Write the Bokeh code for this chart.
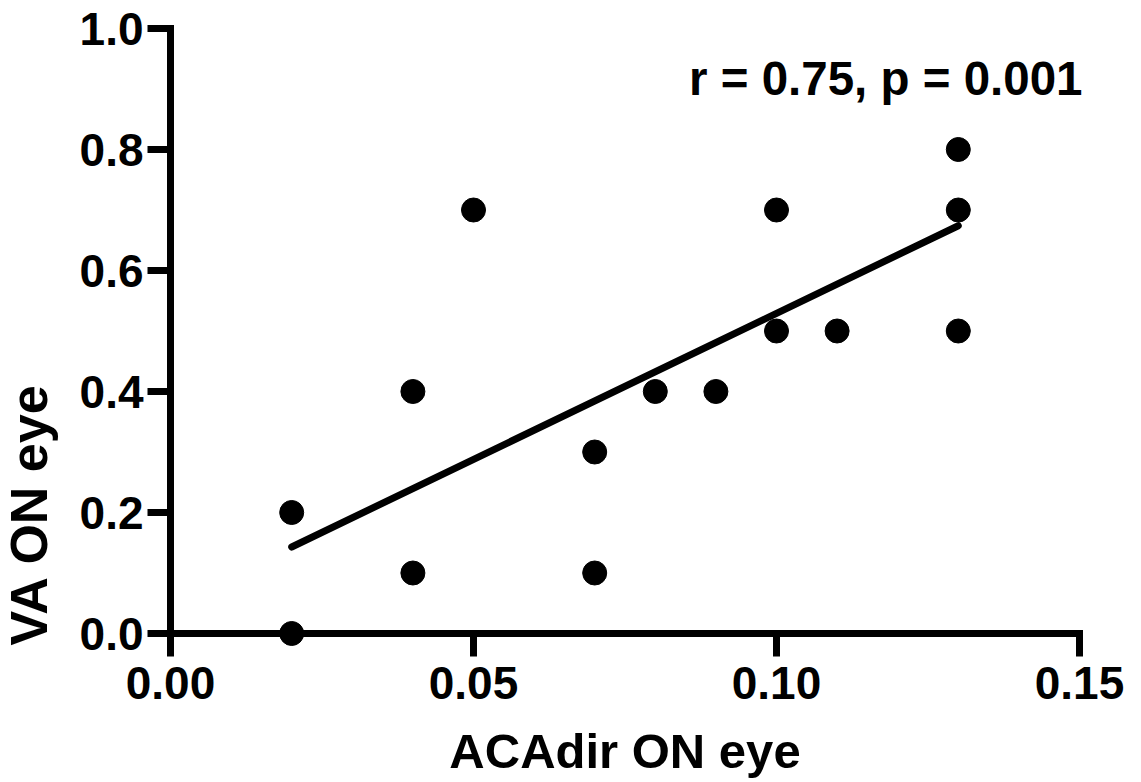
from bokeh.plotting import figure
from bokeh.models import Range1d, FixedTicker, PrintfTickFormatter, Label
from bokeh.embed import file_html
from bokeh.resources import INLINE
import math

# Data
x_vals = [0.02, 0.02, 0.04, 0.04, 0.05, 0.07, 0.07, 0.08, 0.09, 0.10, 0.10, 0.11, 0.13, 0.13, 0.13]
y_vals = [0.2, 0.0, 0.4, 0.1, 0.7, 0.3, 0.1, 0.4, 0.4, 0.7, 0.5, 0.5, 0.8, 0.7, 0.5]
fit_x = [0.02, 0.13]
fit_y = [0.143, 0.674]
x_ticks = [0.0, 0.05, 0.10, 0.15]
y_ticks = [0.0, 0.2, 0.4, 0.6, 0.8, 1.0]
x_label = "ACAdir ON eye"
y_label = "VA ON eye"
stat_text = "r = 0.75, p = 0.001"

FONT = "Liberation Sans"

# Whole canvas is the frame; axes are placed at data zero
W, H = 1140, 780
X0_PX, Y0_PX = 170, 633          # screen position of data origin
XS, YS = 6060.0, 605.0           # px per data unit

p = figure(width=W, height=H,
           x_range=Range1d(-X0_PX / XS, (W - X0_PX) / XS),
           y_range=Range1d((Y0_PX - H) / YS, Y0_PX / YS),
           output_backend="svg", toolbar_location=None,
           min_border=0, min_border_left=0, min_border_right=0,
           min_border_top=0, min_border_bottom=0)

p.outline_line_color = None
p.xgrid.visible = False
p.ygrid.visible = False
p.background_fill_color = "white"
p.border_fill_color = "white"

p.line(fit_x, fit_y, line_color="black", line_width=7, line_cap="round")
p.scatter(x_vals, y_vals, size=24, fill_color="black", line_color="black")

for ax in (p.xaxis[0], p.yaxis[0]):
    ax.fixed_location = 0
    ax.axis_line_width = 7
    ax.axis_line_color = "black"
    ax.axis_line_cap = "square"
    ax.major_tick_line_width = 7
    ax.major_tick_line_color = "black"
    ax.major_tick_in = 0
    ax.major_tick_out = 23
    ax.minor_tick_line_color = None
    ax.major_label_text_font = FONT
    ax.major_label_text_font_style = "bold"
    ax.major_label_text_font_size = "46px"
    ax.major_label_text_color = "black"

p.xaxis[0].ticker = FixedTicker(ticks=x_ticks)
p.xaxis[0].formatter = PrintfTickFormatter(format="%.2f")
p.xaxis[0].bounds = (0, 0.15)
p.xaxis[0].major_label_standoff = 10

p.yaxis[0].ticker = FixedTicker(ticks=y_ticks)
p.yaxis[0].formatter = PrintfTickFormatter(format="%.1f")
p.yaxis[0].bounds = (0, 1.0)
p.yaxis[0].major_label_standoff = 4

p.add_layout(Label(x=0.075, y=-0.1934, text=x_label, text_align="center",
                   text_baseline="alphabetic", text_font=FONT,
                   text_font_style="bold", text_font_size="49px", text_color="black"))
p.add_layout(Label(x=-0.0234, y=0.1967, text=y_label, angle=math.pi / 2,
                   text_align="center", text_baseline="alphabetic", text_font=FONT,
                   text_font_style="bold", text_font_size="52px", text_color="black"))
p.add_layout(Label(x=0.1505, y=0.917, text=stat_text, text_align="right",
                   text_baseline="alphabetic", text_font=FONT,
                   text_font_style="bold", text_font_size="47.5px", text_color="black"))

open("out.html", "w").write(file_html(p, INLINE))
